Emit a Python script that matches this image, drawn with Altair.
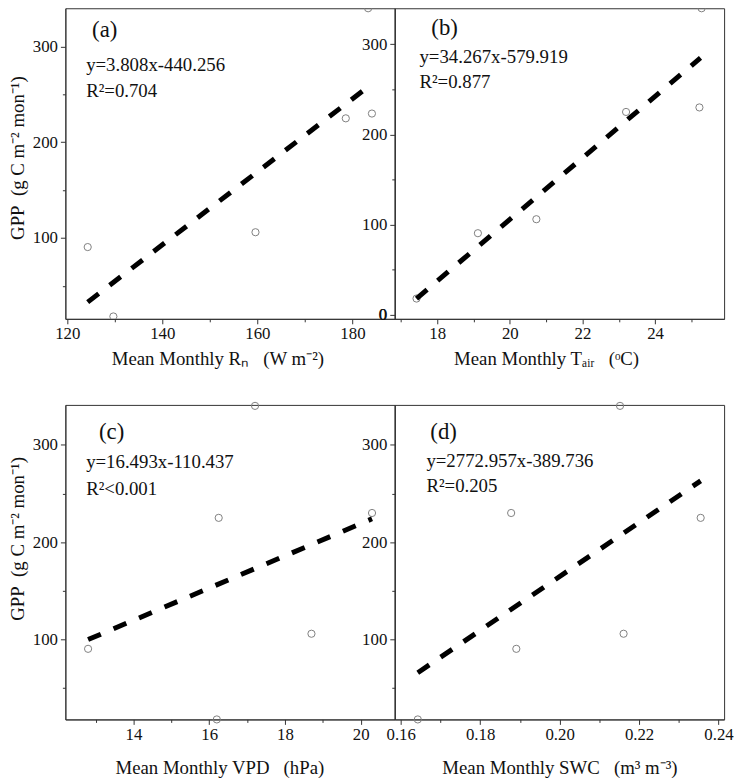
import altair as alt
import pandas as pd

# ---- data ----
GPP = [18, 90.5, 106, 225, 230, 340]
RN = [129.7, 124.3, 159.6, 178.6, 184.1, 183.3]
TAIR = [17.43, 19.12, 20.73, 23.2, 25.22, 25.28]
VPD = [16.2, 12.8, 18.7, 16.25, 20.3, 17.21]
SWC = [0.1643, 0.1891, 0.2161, 0.2355, 0.1878, 0.2152]

FIT_RN = [124.3, 184.1]
FIT_RN_GPP = [33, 261]
FIT_TAIR = [17.43, 25.25]
FIT_TAIR_GPP = [18, 285]
FIT_VPD = [12.8, 20.3]
FIT_VPD_GPP = [100, 224]
FIT_SWC = [0.1643, 0.2355]
FIT_SWC_GPP = [66, 263]

PANEL_TAGS = ["(a)", "(b)", "(c)", "(d)"]
EQUATIONS = ["y=3.808x-440.256", "y=34.267x-579.919",
             "y=16.493x-110.437", "y=2772.957x-389.736"]
R2_TEXTS = ["R\u00b2=0.704", "R\u00b2=0.877", "R\u00b2<0.001", "R\u00b2=0.205"]
SP = "\u00a0\u00a0\u00a0"
X_TITLES = ["Mean Monthly R\u2099" + SP + "(W m\u207b\u00b2)",
            "Mean Monthly T\u2090\u1d62\u1d63" + SP + "(\u1d52C)",
            "Mean Monthly VPD" + SP + "(hPa)",
            "Mean Monthly SWC" + SP + "(m\u00b3 m\u207b\u00b3)"]
Y_TITLE = "GPP\u00a0\u00a0(g C m\u207b\u00b2 mon\u207b\u00b9)"

X_MAJOR = [[120, 140, 160, 180], [18, 20, 22, 24], [14, 16, 18, 20],
           [0.16, 0.18, 0.20, 0.22, 0.24]]
X_MINOR = [[130, 150, 170], [17, 19, 21, 23, 25], [13, 15, 17, 19],
           [0.17, 0.19, 0.21, 0.23]]
Y_MAJOR = [[100, 200, 300], [0, 100, 200, 300], [100, 200, 300], [100, 200, 300]]
Y_MINOR = [50, 150, 250]

FONT = "Liberation Serif"
INK = "#111111"
AX = "#333333"


def panel(idx, xs, fx, fy, xdom, ydom, xfmt, width, height, ytitle, ytitle_y,
          xtitle_x, xtitle_pad, clip, tag_pos, eq_pos, r2_pos):
    pts = pd.DataFrame({"x": xs, "gpp": GPP})
    fit = pd.DataFrame({"x": fx, "gpp": fy})
    xs_ = alt.Scale(domain=xdom, zero=False, nice=False)
    ys_ = alt.Scale(domain=ydom, zero=False, nice=False)

    lab = dict(labelFont=FONT, labelFontSize=17, labelColor=INK,
               titleFont=FONT, titleFontSize=19, titleColor=INK,
               titleFontWeight="normal", grid=False,
               labelOverlap=False, labelFlush=False, labelBound=False)

    yaxis_kw = dict(orient="left", tickSize=5, labelPadding=3,
                    values=Y_MAJOR[idx], **lab)
    if ytitle:
        yaxis_kw.update(title=Y_TITLE, titleY=ytitle_y, titlePadding=5)
    else:
        yaxis_kw.update(title=None)

    points = alt.Chart(pts).mark_point(
        shape="circle", filled=False, color="#808080", size=53,
        strokeWidth=1, opacity=1, clip=clip
    ).encode(
        x=alt.X("x:Q", scale=xs_,
                axis=alt.Axis(values=X_MAJOR[idx], format=xfmt, orient="bottom",
                              title=X_TITLES[idx], titleX=xtitle_x,
                              titlePadding=xtitle_pad, tickSize=5,
                              labelPadding=2, **lab)),
        y=alt.Y("gpp:Q", scale=ys_, axis=alt.Axis(**yaxis_kw)),
    )

    line = alt.Chart(fit).mark_line(
        color="black", strokeWidth=5, strokeDash=[14, 14], strokeCap="butt"
    ).encode(
        x=alt.X("x:Q", scale=xs_,
                axis=alt.Axis(values=X_MINOR[idx], labels=False, tickSize=3,
                              domain=False, title=None, orient="bottom",
                              grid=False)),
        y=alt.Y("gpp:Q", scale=ys_,
                axis=alt.Axis(values=Y_MINOR, labels=False, tickSize=3,
                              domain=False, title=None, orient="left",
                              grid=False)),
    )

    def txt(s, pos, size):
        return alt.Chart(pd.DataFrame({"t": [s]})).mark_text(
            align="left", baseline="middle", font=FONT, fontSize=size, color=INK
        ).encode(x=alt.value(pos[0]), y=alt.value(pos[1]), text="t:N")

    layers = [points, line,
              txt(PANEL_TAGS[idx], tag_pos, 23),
              txt(EQUATIONS[idx], eq_pos, 19),
              txt(R2_TEXTS[idx], r2_pos, 19)]

    # lowest y tick label drawn as a text mark on the y scale (axis drops it)
    low = [v for v in Y_MAJOR[idx] if v < ydom[0] + 10]
    if low:
        lowdf = pd.DataFrame({"v": low, "t": [str(v) for v in low]})
        layers.append(
            alt.Chart(lowdf).mark_text(
                align="right", baseline="middle", font=FONT, fontSize=17,
                color=INK, dx=-8
            ).encode(x=alt.value(0), y=alt.Y("v:Q", scale=ys_, axis=None),
                     text="t:N")
        )

    layer = alt.layer(*layers).resolve_axis(
        x="independent", y="independent").properties(width=width, height=height)
    return layer


H1, H2 = 314, 318
pa = panel(0, RN, FIT_RN, FIT_RN_GPP, [119.6, 188.9], [15.5, 340], "d",
           333, H1, True, 151, 153.7, 8, True, (27, 22), (21, 57), (21, 84))
pb = panel(1, TAIR, FIT_TAIR, FIT_TAIR_GPP, [16.83, 25.9], [-4.5, 340], "d",
           333, H1, False, 0, 153, 8, True, (37, 20), (25, 49), (25, 75))
pc = panel(2, VPD, FIT_VPD, FIT_VPD_GPP, [12.2, 20.9], [18, 341], "d",
           333, H2, True, 135, 155.7, 17, False, (34, 27), (21, 58), (21, 85))
pd_ = panel(3, SWC, FIT_SWC, FIT_SWC_GPP, [0.1585, 0.2414], [18, 341], ".2f",
            333, H2, False, 0, 166.5, 17, False, (36, 27), (32, 57), (32, 82))

row1 = alt.hconcat(pa, pb, spacing=0, bounds="flush")
row2 = alt.hconcat(pc, pd_, spacing=0, bounds="flush")

chart = alt.vconcat(row1, row2, spacing=30).properties(
    padding={"top": -5, "left": 0, "right": 0, "bottom": 0},
    background="white"
).configure_view(
    stroke=AX, strokeWidth=1
).configure_axis(
    domainColor=AX, tickColor=AX, domainWidth=1, tickWidth=1,
    labelFont=FONT, titleFont=FONT, labelFontSize=17, titleFontSize=19,
    titleFontWeight="normal", labelColor=INK, titleColor=INK, grid=False
)

chart.save("out.html", embed_options={"renderer": "svg", "actions": False})
